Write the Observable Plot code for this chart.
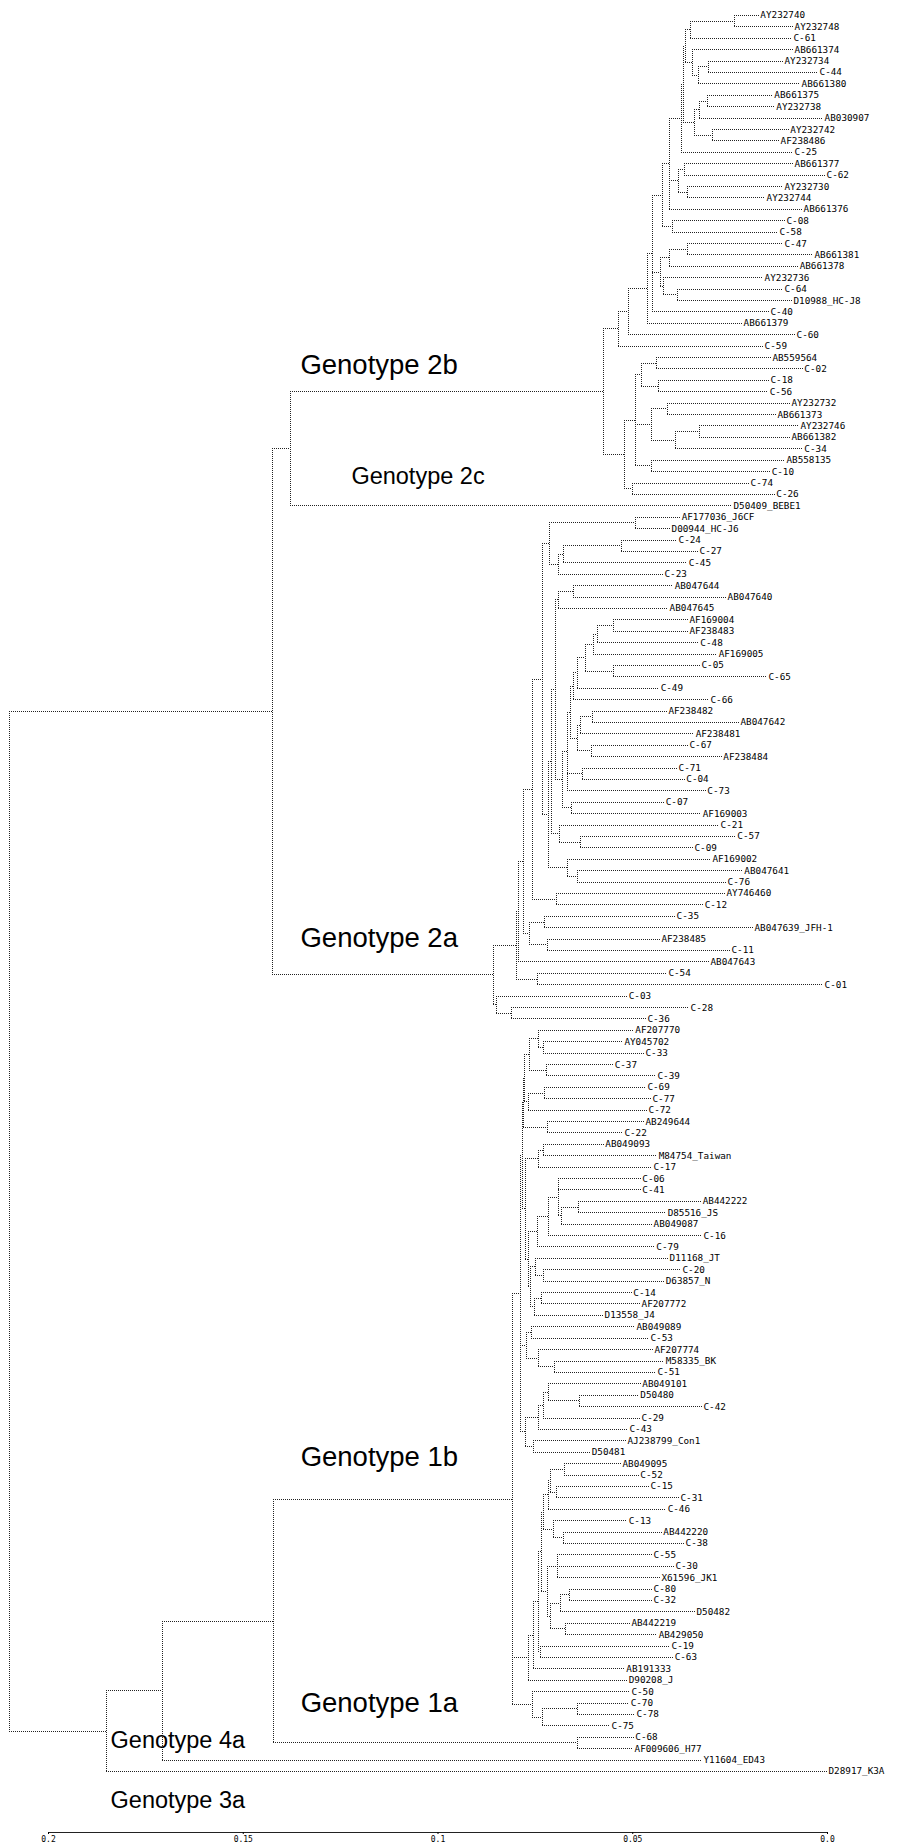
<!DOCTYPE html>
<html><head><meta charset="utf-8">
<script src="https://cdn.jsdelivr.net/npm/d3@7"></script>
<script src="https://cdn.jsdelivr.net/npm/@observablehq/plot@0.6"></script>
<style>body{margin:0;background:#fff}#chart svg{display:block;overflow:visible}</style>
</head><body><div id="chart"></div>
<script>
// Node positions are read on the chart's distance axis (0.2 ... 0.0); leaves in drawing order.
// genotype 2b
const g2bA = "((AY232740:0.0175,AY232748:0.0087):0.0239,C-61:0.0090):0.0352";
const g2bB = "(AB661374:0.0087,((AY232734:0.0113,C-44:0.0023):0.0306,AB661380:0.0069):0.0331):0.0347";
const g2bC = "(((AB661375:0.0139,AY232738:0.0134):0.0308,AB030907:0.0010):0.0329,(AY232742:0.0098,AF238486:0.0123):0.0295):0.0341";
const g2bTop = `(((${g2bA},${g2bB}):0.0365,${g2bC}):0.0370,C-25:0.0087):0.0375`;
const g2bN1 = `(${g2bTop},((AB661377:0.0087,C-62:0.0005):0.0367,(AY232730:0.0113,AY232744:0.0159):0.0359):0.0383,AB661376:0.0064):0.0406`;
const g2bG47 = "(((C-47:0.0113,AB661381:0.0036):0.0359,AB661378:0.0074):0.0406,(AY232736:0.0164,(C-64:0.0113,D10988_HC-J8:0.0090):0.0385):0.0421):0.0429";
const g2bN6 = `(((((${g2bN1},(C-08:0.0108,C-58:0.0126):0.0398):0.0424,${g2bG47},C-40:0.0149):0.0449,AB661379:0.0218):0.0462,C-60:0.0082):0.0511,C-59:0.0164):0.0537`;
const g2bLow = "((((AB559564:0.0144,C-02:0.0062):0.0439,(C-18:0.0149,C-56:0.0151):0.0434):0.0478,((AY232732:0.0095,AB661373:0.0131):0.0411,((AY232746:0.0072,AB661382:0.0095):0.0329,C-34:0.0062):0.0390):0.0452,(AB558135:0.0108,C-10:0.0146):0.0452):0.0493,(C-74:0.0200,C-26:0.0134):0.0501):0.0521";
const clade2b = `(${g2bN6},${g2bLow})G2b:0.0575`;
const clade2c = "D50409_BEBE1:0.0244";
// genotype 2a
const g2aA1 = "((AF177036_J6CF:0.0377,D00944_HC-J6:0.0403):0.0493,(((C-24:0.0385,C-27:0.0331):0.0529,C-45:0.0359):0.0678,C-23:0.0421):0.0691):0.0714";
const g2aA2 = "((AB047644:0.0395,AB047640:0.0259):0.0652,AB047645:0.0408):0.0691";
const g2aE = "((((((AF169004:0.0357,AF238483:0.0357):0.0549,C-48:0.0329):0.0590,AF169005:0.0282):0.0601,(C-05:0.0326,C-65:0.0154):0.0549):0.0621,C-49:0.0431):0.0642,C-66:0.0303):0.0652";
const g2aF = "(((AF238482:0.0411,AB047642:0.0226):0.0603,AF238481:0.0341):0.0634,(C-67:0.0357,AF238484:0.0270):0.0606):0.0642";
const g2aC = `(((${g2aE},${g2aF}):0.0660,(C-71:0.0385,C-04:0.0365):0.0629,C-73:0.0311):0.0668,(C-07:0.0418,AF169003:0.0323):0.0657):0.0680`;
const g2aP = `(((${g2aA2},${g2aC}):0.0698,(C-21:0.0277,(C-57:0.0234,C-09:0.0344):0.0634):0.0688):0.0709,(AF169002:0.0298,(AB047641:0.0216,C-76:0.0259):0.0642):0.0668):0.0716`;
const g2aMain = `(((((${g2aA1},${g2aP}):0.0732,(AY746460:0.0262,C-12:0.0318):0.0696):0.0757,((C-35:0.0390,AB047639_JFH-1:0.0190):0.0727,(AF238485:0.0429,C-11:0.0249):0.0719):0.0765):0.0781,AB047643:0.0303):0.0793,(C-54:0.0411,C-01:0.0010):0.0745):0.0799`;
const clade2a = `(${g2aMain},(C-03:0.0513,(C-28:0.0354,C-36:0.0465):0.0811):0.0850)G2a:0.0858`;
// genotype 1b
const g1bA = "((AF207770:0.0496,(AY045702:0.0524,C-33:0.0470):0.0729):0.0742,(C-37:0.0549,C-39:0.0439):0.0721):0.0765";
const g1bB = "((C-69:0.0465,C-77:0.0452):0.0727,C-72:0.0462):0.0768";
const g1bC = `((${g1bA},${g1bB}):0.0778,(AB249644:0.0470,C-22:0.0524):0.0719):0.0781`;
const g1bH1 = "((AB049093:0.0573,M84754_Taiwan:0.0436):0.0729,C-17:0.0449):0.0742";
const g1bH2 = "(((C-06:0.0478,C-41:0.0478,((AB442222:0.0323,D85516_JS:0.0413):0.0639,AB049087:0.0449):0.0683):0.0691,C-16:0.0321):0.0716,C-79:0.0442):0.0745";
const g1bH3 = "((D11168_JT:0.0408,(C-20:0.0375,D63857_N:0.0418):0.0729):0.0750,((C-14:0.0501,AF207772:0.0480):0.0734,D13558_J4:0.0575):0.0752):0.0763";
const g1bH = `(${g1bH1},(${g1bH2},${g1bH3}):0.0768):0.0775`;
const g1bD = "((AB049089:0.0493,C-53:0.0457):0.0760,(AF207774:0.0447,(M58335_BK:0.0418,C-51:0.0439):0.0701):0.0742):0.0773";
const g1bE = "((((AB049101:0.0478,(D50480:0.0483,C-42:0.0321):0.0637):0.0716,C-29:0.0480):0.0729,C-43:0.0511):0.0742,(AJ238799_Con1:0.0516,D50481:0.0608):0.0755):0.0775";
const g1bUpper = `((${g1bC},${g1bH}):0.0784,${g1bD},${g1bE}):0.0788`;
const g1bF = "((((AB049095:0.0529,C-52:0.0483):0.0675,(C-15:0.0457,C-31:0.0380):0.0696):0.0711,C-46:0.0413):0.0716,(C-13:0.0513,(AB442220:0.0424,C-38:0.0367):0.0678):0.0703):0.0729";
const g1bG = "((C-55:0.0449,C-30:0.0393,X61596_JK1:0.0429):0.0693,(((C-80:0.0449,C-32:0.0449):0.0662,D50482:0.0339):0.0686,(AB442219:0.0506,AB429050:0.0436):0.0673):0.0711):0.0719";
const g1bLower = `((((${g1bF},${g1bG}):0.0735,(C-19:0.0403,C-63:0.0395):0.0737):0.0743,AB191333:0.0519):0.0755,D90208_J:0.0513):0.0768`;
const g1bC50 = "(C-50:0.0506,((C-70:0.0508,C-78:0.0493):0.0642,C-75:0.0557):0.0732):0.0757";
const clade1b = `(${g1bUpper},${g1bLower},${g1bC50})G1b:0.0809`;
const clade1a = "(C-68:0.0496,AF009606_H77:0.0498)G1a:0.0642";
const clade4a = "Y11604_ED43:0.0321";
const clade3a = "D28917_K3A:0.0";
// backbone node positions: 2b+2c, genotype 2, genotype 1, +4a, +3a, root
const backboneX = [0.1379, 0.1425, 0.1422, 0.1707, 0.1851, 0.2100];

const tickValues = [0.2, 0.15, 0.1, 0.05, 0];
const tickLabels = ["0.2", "0.15", "0.1", "0.05", "0.0"];

const genotypeLabels = [
  {text: "Genotype 2b", node: "G2b", dx: 10, dy: -27, size: 27.5},
  {text: "Genotype 2c", node: "D50409_BEBE1", dx: 61, dy: -29, size: 23.5},
  {text: "Genotype 2a", node: "G2a", dx: 28, dy: -37, size: 27.5},
  {text: "Genotype 1b", node: "G1b", dx: 27, dy: -42, size: 27.5},
  {text: "Genotype 1a", node: "G1a", dx: 27, dy: -40, size: 27.5},
  {text: "Genotype 4a", node: "D28917_K3A", dx: 4, dy: -31, size: 23.5},
  {text: "Genotype 3a", node: "D28917_K3A", dx: 4, dy: 29, size: 23.5}
];

const [b2bc, b2, b1, b4a, b3a, bRoot] = backboneX;
const newick = `(((${clade2b},${clade2c}):${b2bc},${clade2a}):${b2},(((${clade1b},${clade1a}):${b1},${clade4a}):${b4a},${clade3a}):${b3a}):${bRoot}`;

function parse(str) {
  let i = 0;
  function node() {
    const n = {children: []};
    if (str[i] === "(") {
      i++;
      n.children.push(node());
      while (str[i] === ",") { i++; n.children.push(node()); }
      i++;
    }
    let name = "";
    while (i < str.length && !":,()".includes(str[i])) name += str[i++];
    n.name = name;
    if (str[i] === ":") {
      i++;
      let num = "";
      while (i < str.length && !",()".includes(str[i])) num += str[i++];
      n.x = +num;
    }
    return n;
  }
  return node();
}

const root = parse(newick);
const leaves = [], horiz = [], vert = [], byName = {};
let leafIndex = 0;
(function layout(n, parent) {
  n.parent = parent;
  if (n.name) byName[n.name] = n;
  if (n.children.length === 0) {
    n.y = leafIndex++;
    leaves.push(n);
  } else {
    n.children.forEach(c => layout(c, n));
    n.y = (n.children[0].y + n.children[n.children.length - 1].y) / 2;
    vert.push({x: n.x, y1: n.children[0].y, y2: n.children[n.children.length - 1].y});
  }
  if (parent) horiz.push({x1: parent.x, x2: n.x, y: n.y});
})(root, null);

const lineStyle = {stroke: "#222", strokeWidth: 1, strokeDasharray: "1 1", shapeRendering: "crispEdges"};

const labelMarks = genotypeLabels.map(l => {
  const n = byName[l.node];
  return Plot.text([{x: n.parent.x, y: n.y, t: l.text}], {
    x: "x", y: "y", text: "t", textAnchor: "start", lineAnchor: "middle",
    dx: l.dx, dy: l.dy, fontSize: l.size, fill: "#000",
    fontFamily: "'Liberation Sans', Arial, sans-serif"
  });
});

const chart = Plot.plot({
  width: 897,
  height: 1847,
  marginLeft: 48,
  marginRight: 70,
  marginTop: 15,
  marginBottom: 15,
  x: {domain: [0.2, 0]},
  y: {domain: [0, leaves.length - 1], range: [15, 1771], axis: null},
  style: {background: "#fff"},
  marks: [
    Plot.ruleX(vert, {x: "x", y1: "y1", y2: "y2", ...lineStyle}),
    Plot.ruleY(horiz, {y: "y", x1: "x1", x2: "x2", ...lineStyle}),
    Plot.text(leaves, {x: "x", y: "y", text: "name", textAnchor: "start", dx: 1,
      fontSize: 9.3, fill: "#000", fontFamily: "'DejaVu Sans Mono', monospace"}),
    ...labelMarks,
    Plot.frame({anchor: "bottom", stroke: "#222", strokeDasharray: "1 1", shapeRendering: "crispEdges"}),
    Plot.axisX({ticks: tickValues, tickFormat: d => tickLabels[tickValues.indexOf(d)],
      tickSize: 2, tickPadding: 2, fontSize: 8, fontFamily: "'DejaVu Sans Mono', monospace"})
  ]
});
document.getElementById("chart").appendChild(chart);
</script>
</body></html>
